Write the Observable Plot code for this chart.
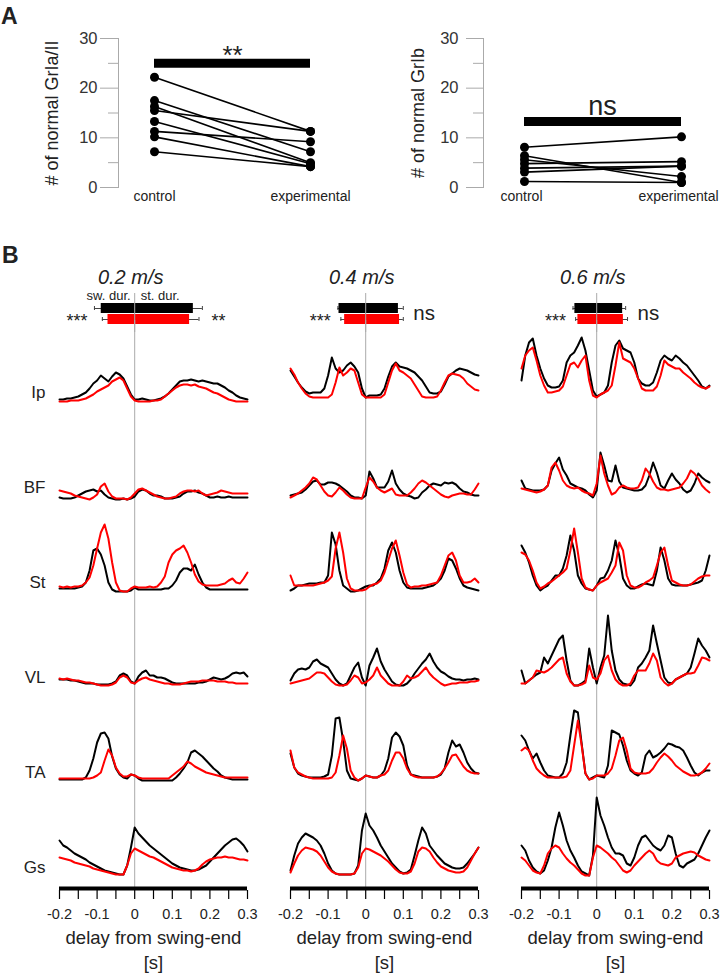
<!DOCTYPE html>
<html><head><meta charset="utf-8">
<script src="https://cdn.jsdelivr.net/npm/d3@7"></script>
<script src="https://cdn.jsdelivr.net/npm/@observablehq/plot@0.6"></script>
<style>
body{margin:0;background:#fff;}
#fig{position:relative;width:720px;height:973px;overflow:hidden;font-family:"Liberation Sans",Arial,Helvetica,sans-serif;}
#fig > div{position:absolute;}
.lbl{font-weight:bold;font-size:23px;line-height:23px;color:#222;}
</style></head><body>
<div id="fig">
  <div class="lbl" style="left:1px;top:5px">A</div>
  <div class="lbl" style="left:2px;top:244px">B</div>
  <div id="a1" style="left:0;top:0"></div>
  <div id="a2" style="left:360px;top:0"></div>
  <div id="hdr" style="left:0;top:260px"></div>
  <div id="emg" style="left:0;top:320px"></div>
</div>
<script>
const FONT = '"Liberation Sans", Arial, Helvetica, sans-serif';

// ---------- Panel A data ----------
const groups = ["control", "experimental"];
const grIa_control      = [22.2, 17.5, 16.3, 15.5, 13.3, 11.3, 10.2, 7.2];
const grIa_experimental = [11.3, 7.2, 5.0, 11.3, 4.8, 9.2, 4.2, 4.2];
const grIb_control      = [8.1, 6.4, 5.6, 4.8, 3.9, 3.1, 1.2];
const grIb_experimental = [10.2, 1.0, 2.2, 5.2, 4.3, 4.3, 1.0];
const yMajor = [0, 10, 20, 30];
const yMinor = [5, 15, 25];
const grIa_sig = "**", grIa_sigLevel = 25;
const grIb_sig = "ns", grIb_sigLevel = 13.3;

// ---------- Panel B data ----------
const speeds = ["0.2 m/s", "0.4 m/s", "0.6 m/s"];
const muscles = ["Ip", "BF", "St", "VL", "TA", "Gs"];
const conditions = ["control", "experimental"];
// step-cycle bars (s, relative to swing end)
const swingOnset_control      = [-0.089, -0.071, -0.058];
const stanceEnd_control       = [0.156, 0.087, 0.069];
const swingOnset_experimental = [-0.071, -0.056, -0.050];
const stanceEnd_experimental  = [0.146, 0.090, 0.071];
const errLow_control      = [-0.107, -0.074, -0.063];
const errHigh_control     = [0.180, 0.100, 0.077];
const errLow_experimental = [-0.086, -0.066, -0.056];
const errHigh_experimental= [0.171, 0.100, 0.082];
const swingSig  = ["***", "***", "***"];
const stanceSig = ["**", "ns", "ns"];

const xTicksAll = [-0.2, -0.15, -0.1, -0.05, 0, 0.05, 0.1, 0.15, 0.2, 0.25, 0.3];
const xTickValues = [-0.2, -0.1, 0, 0.1, 0.2, 0.3];
const xTickLabels = ["-0.2", "-0.1", "0", "0.1", "0.2", "0.3"];
const xTitle = "delay from swing-end";
const xUnit = "[s]";

// EMG envelopes, sampled every 10 ms from -0.20 to 0.30 s (arbitrary units)
const Ip_02_control = [1,1,2,2,3,4,6,8,12,17,20,25,22,19,24,28,26,22,14,6, 1,1,2,1,0,0,1,2,4,7,11,15,19,20,20,21,20,19,20,19,18,17,17,15,13,10,8,5,3,2,1];
const Ip_02_experimental = [-1,-1,-1,0,0,0,1,2,4,6,9,11,13,15,19,21,23,20,12,4, 0,-1,-1,-1,-1,0,0,1,4,7,10,13,15,16,16,15,16,14,13,12,10,8,7,5,3,1,0,-1,-1,-1,-1];
const BF_02_control = [-2,-3,-3,-3,-2,0,2,4,5,6,4,5,1,-2,-3,-4,-4,-3,-4,-3, -1,4,6,5,2,0,0,-1,-3,-3,-3,-2,-1,2,4,4,5,3,2,0,-2,-2,-1,-2,-2,-1,-2,-2,-2,-2,-2];
const BF_02_experimental = [5,4,3,2,0,-1,-2,-3,-4,-2,1,9,12,4,-1,-3,-3,-3,-4,-2, 2,6,7,5,3,1,-1,-2,-3,-3,-2,-1,2,4,5,5,4,5,2,0,1,2,3,5,4,3,2,2,2,2,2];
const St_02_control = [2,2,2,2,2,3,4,8,20,40,42,36,25,8,1,-1,-1,-1,-1,0, 3,1,1,1,1,1,1,1,2,2,5,10,18,22,22,20,26,16,8,3,1,1,1,1,1,1,1,1,1,1,1];
const St_02_experimental = [4,3,4,3,4,4,5,8,13,25,42,58,66,52,28,8,0,-1,-1,2, 4,3,3,3,4,3,4,8,14,28,36,40,42,45,38,28,16,9,6,5,5,5,5,6,7,10,12,8,7,12,18];
const VL_02_control = [6,6,6,5,5,4,3,2,2,2,1,1,1,1,2,4,10,12,10,4, 2,9,13,15,10,10,8,8,7,5,3,2,2,2,2,2,2,3,3,4,6,8,7,6,7,9,12,13,12,13,9];
const VL_02_experimental = [7,6,7,6,5,5,4,3,3,2,1,0,0,0,1,3,8,10,8,3, 2,5,7,8,6,5,4,3,2,2,1,1,1,2,3,4,4,4,5,5,5,5,4,4,4,3,3,2,2,2,2];
const TA_02_control = [1,1,1,1,1,1,1,3,10,22,38,47,48,42,24,12,6,3,2,6, 5,2,0,0,0,0,0,0,0,0,0,3,7,12,18,28,30,27,24,20,16,12,9,5,3,2,1,1,1,1,1];
const TA_02_experimental = [2,2,2,2,2,2,2,2,2,3,5,8,20,31,25,13,7,4,4,6, 5,3,2,2,2,2,2,2,2,2,5,8,11,14,19,17,14,12,10,8,7,6,5,4,3,3,3,3,3,3,3];
const Gs_02_control = [35,30,28,25,22,20,18,16,13,11,9,7,5,4,3,2,1,1,10,28, 48,42,38,34,30,27,24,21,18,15,12,10,8,7,6,5,5,6,8,10,14,18,22,26,30,33,36,37,34,30,24];
const Gs_02_experimental = [18,17,16,15,13,12,11,10,9,7,6,5,4,3,2,1,1,1,10,22, 27,25,23,21,19,18,16,14,12,10,8,7,6,5,5,4,5,7,11,14,16,17,18,18,19,18,18,17,16,16,15];

const Ip_04_control = [30,24,18,13,9,7,8,8,8,12,25,43,32,28,30,35,38,34,28,12, 3,5,5,5,6,12,24,34,38,34,33,32,30,28,24,20,14,8,7,7,9,16,24,27,30,32,31,30,28,26,25];
const Ip_04_experimental = [32,26,18,12,7,4,3,3,3,3,3,6,18,33,25,28,32,30,18,6, 3,3,3,3,3,6,18,30,37,30,28,25,22,16,10,4,3,3,3,4,10,18,25,27,26,25,22,17,14,11,10];
const BF_04_control = [0,1,2,3,6,10,14,15,11,11,13,13,12,10,7,4,0,-2,-2,-3, 0,24,17,8,8,8,14,25,12,6,2,0,-1,-3,-2,3,6,10,12,11,10,13,12,13,11,7,4,3,1,0,0];
const BF_04_experimental = [-2,0,2,5,8,12,18,16,10,4,0,-1,3,8,5,1,-2,-3,-3,-3, 8,18,14,8,5,3,5,7,1,0,0,0,3,7,12,15,13,10,7,4,1,-1,-2,0,1,2,2,1,1,6,12];
const St_04_control = [0,2,5,5,6,7,7,7,8,8,15,58,46,20,5,2,-1,-1,0,2, 4,5,5,8,12,22,40,48,38,20,8,3,2,2,2,2,3,4,5,8,12,20,32,30,22,12,5,3,2,1,0];
const St_04_experimental = [15,5,5,5,5,5,5,6,7,8,10,14,42,58,38,12,2,0,0,0, 1,4,6,7,10,18,30,42,50,35,18,6,3,4,4,5,5,6,7,8,15,25,35,38,30,15,8,8,9,12,8];
const VL_04_control = [5,12,16,17,16,18,24,26,22,20,18,12,6,2,0,2,10,18,23,8, 0,20,28,37,24,16,10,4,1,0,0,2,6,12,17,22,26,32,24,18,14,12,9,7,6,6,5,6,6,7,6];
const VL_04_experimental = [2,3,4,5,6,7,10,13,13,12,8,4,1,0,0,1,5,10,8,2, 3,6,10,18,10,6,2,0,0,0,4,10,7,8,10,14,18,12,8,5,2,0,1,2,2,3,3,3,4,4,5];
const TA_04_control = [27,13,7,5,4,3,3,3,3,4,6,25,62,63,40,10,2,1,0,2, 5,4,3,3,5,10,22,43,48,44,35,15,6,5,4,3,3,3,3,4,6,12,28,40,34,36,28,18,12,8,7];
const TA_04_experimental = [30,13,8,6,4,3,2,2,2,2,2,3,8,25,45,32,10,3,0,2, 5,4,3,3,5,6,10,20,28,28,22,12,6,4,3,3,3,3,3,4,7,12,18,25,26,20,14,10,8,7,7];
const Gs_04_control = [5,20,32,38,42,40,38,35,30,22,12,5,2,1,1,1,1,2,10,45, 62,50,45,38,30,24,18,12,8,4,2,3,6,20,35,48,42,30,25,20,16,12,10,8,7,7,8,12,17,22,28];
const Gs_04_experimental = [3,12,20,25,28,27,26,24,20,14,8,4,2,1,1,1,1,2,8,22, 27,26,24,22,20,17,14,10,6,3,2,2,4,12,24,28,27,24,18,13,9,7,5,4,3,3,4,8,15,22,28];

const Ip_06_control = [20,45,58,62,45,32,22,15,13,13,14,20,38,45,48,55,63,50,30,10, 4,6,8,15,38,55,60,52,50,48,38,22,17,15,15,18,28,40,45,42,40,45,42,38,35,30,25,20,14,12,15];
const Ip_06_experimental = [32,45,50,53,40,25,15,8,8,9,10,14,25,36,38,33,40,45,20,5, 3,6,8,10,15,35,58,42,40,38,32,22,12,10,10,10,14,25,40,36,34,32,32,28,25,22,18,15,13,12,14];
const BF_06_control = [15,7,6,5,5,5,6,10,25,32,38,26,20,12,10,8,7,5,1,-2, 5,43,30,15,14,30,14,8,7,6,5,5,6,10,20,33,23,10,7,15,22,16,12,6,3,5,12,22,18,15,13];
const BF_06_experimental = [7,6,5,4,3,4,6,10,28,33,25,15,10,8,7,8,5,3,2,0, 12,40,22,10,1,3,8,10,8,7,7,8,15,27,22,14,8,6,6,5,6,7,8,12,17,25,22,17,10,6,3];
const St_06_control = [45,38,28,15,5,0,3,5,10,15,15,22,35,55,40,15,7,2,1,0, 5,12,13,20,30,50,35,12,5,2,2,4,6,7,6,5,20,43,30,12,6,5,5,5,5,6,7,8,10,20,35];
const St_06_experimental = [38,36,30,20,8,2,4,7,9,12,15,18,22,40,62,38,12,3,1,0, 5,8,10,12,18,25,48,40,15,5,3,3,5,8,10,13,25,38,43,25,10,8,6,5,5,6,9,12,14,15,15];
const VL_06_control = [15,2,5,8,11,13,28,22,30,38,46,50,25,5,0,0,2,5,37,18, 2,18,30,70,35,15,6,2,1,0,5,18,22,28,35,60,42,25,8,3,2,6,8,10,12,18,32,47,40,35,28];
const VL_06_experimental = [2,2,5,8,15,14,13,15,18,22,26,28,12,4,0,0,1,3,20,8, 6,12,25,30,15,6,2,0,0,2,10,15,15,15,22,32,25,8,3,0,2,6,8,10,12,12,13,20,28,27,25];
const TA_06_control = [45,40,30,22,27,18,10,5,4,3,3,7,18,45,70,68,37,7,1,3, 5,4,3,15,50,48,46,35,20,10,7,5,8,25,30,23,25,28,32,37,36,34,33,30,23,15,8,5,8,10,10];
const TA_06_experimental = [30,33,30,20,12,8,5,3,3,3,3,3,4,10,35,60,35,7,1,2, 5,5,5,7,12,25,40,43,30,12,8,7,7,7,8,12,18,23,27,24,20,15,12,9,7,5,5,6,8,12,17];
const Gs_06_control = [30,25,15,8,4,2,5,15,28,48,63,50,35,25,18,10,4,2,0,20, 78,60,50,38,28,22,22,20,12,10,18,30,38,40,35,30,27,25,30,40,38,22,10,8,12,14,16,22,30,38,45];
const Gs_06_experimental = [18,15,10,5,3,2,10,22,27,30,28,22,17,13,10,6,2,0,0,18, 30,28,25,22,18,15,10,5,3,5,10,14,18,22,25,22,15,12,11,10,12,18,20,22,23,24,23,20,18,16,15];

const traceSets = [
  ["0.2 m/s","Ip",Ip_02_control,Ip_02_experimental],["0.2 m/s","BF",BF_02_control,BF_02_experimental],
  ["0.2 m/s","St",St_02_control,St_02_experimental],["0.2 m/s","VL",VL_02_control,VL_02_experimental],
  ["0.2 m/s","TA",TA_02_control,TA_02_experimental],["0.2 m/s","Gs",Gs_02_control,Gs_02_experimental],
  ["0.4 m/s","Ip",Ip_04_control,Ip_04_experimental],["0.4 m/s","BF",BF_04_control,BF_04_experimental],
  ["0.4 m/s","St",St_04_control,St_04_experimental],["0.4 m/s","VL",VL_04_control,VL_04_experimental],
  ["0.4 m/s","TA",TA_04_control,TA_04_experimental],["0.4 m/s","Gs",Gs_04_control,Gs_04_experimental],
  ["0.6 m/s","Ip",Ip_06_control,Ip_06_experimental],["0.6 m/s","BF",BF_06_control,BF_06_experimental],
  ["0.6 m/s","St",St_06_control,St_06_experimental],["0.6 m/s","VL",VL_06_control,VL_06_experimental],
  ["0.6 m/s","TA",TA_06_control,TA_06_experimental],["0.6 m/s","Gs",Gs_06_control,Gs_06_experimental]
];
const times = d3.range(51).map(i => Math.round(-20 + i) / 100);

// ---------- build tables ----------
const rows = [];
for (const [speed, muscle, ctrl, exp] of traceSets) {
  times.forEach((t, i) => {
    rows.push({speed, muscle, condition: "control", t, v: ctrl[i]});
    rows.push({speed, muscle, condition: "experimental", t, v: exp[i]});
  });
}
const headerRows = speeds.flatMap((s, i) => [
  {speed: s, condition: "control", start: swingOnset_control[i], end: stanceEnd_control[i], lo: errLow_control[i], hi: errHigh_control[i]},
  {speed: s, condition: "experimental", start: swingOnset_experimental[i], end: stanceEnd_experimental[i], lo: errLow_experimental[i], hi: errHigh_experimental[i]}
]);
const sigRows = speeds.map((s, i) => ({
  speed: s, left: swingSig[i], right: stanceSig[i],
  lo: Math.min(errLow_control[i], errLow_experimental[i]),
  hi: Math.max(errHigh_control[i], errHigh_experimental[i])
}));
const bottomCells = speeds.map(s => ({speed: s, muscle: muscles[muscles.length - 1]}));

// ---------- Panel A ----------
function pairedPanel(ctrl, exp, o) {
  const pairs = ctrl.map((c, i) => ({control: c, experimental: exp[i]}));
  const points = pairs.flatMap(p => groups.map(g => ({group: g, value: p[g]})));
  return Plot.plot({
    width: 360, height: 215,
    marginTop: 38, marginBottom: 28, marginLeft: o.ml, marginRight: 10,
    style: {fontFamily: FONT, background: "transparent", color: "#222", overflow: "visible"},
    x: {type: "point", domain: groups, range: o.xr, padding: 0, axis: null},
    y: {domain: [0, 30], axis: null},
    marks: [
      Plot.frame({anchor: "left", stroke: "#aaa"}),
      Plot.axisY(yMajor, {anchor: "left", tickSize: o.tMaj, tickPadding: o.tp, stroke: "#aaa", fill: "#333", fontSize: 16.5, label: null}),
      Plot.axisY(yMinor, {anchor: "left", tickSize: o.tMin, tickFormat: () => "", stroke: "#aaa", label: null}),
      Plot.axisX({anchor: "bottom", tickSize: 0, tickPadding: 4, dx: o.xlDx, fontSize: 14, fill: "#222", label: null}),
      Plot.text([o.label], {frameAnchor: "left", textAnchor: "middle", lineAnchor: "middle", rotate: -90, dx: o.labelDx, fontSize: 18, fill: "#222"}),
      Plot.ruleY([o.level], {x1: () => groups[0], x2: () => groups[1], stroke: "#000", strokeWidth: 9}),
      Plot.text([o.sig], {x: () => groups[0], y: () => o.level, dx: o.sigDx, dy: o.sigDy, fontSize: o.sigSize, fill: "#222"}),
      Plot.link(pairs, {x1: () => groups[0], x2: () => groups[1], y1: "control", y2: "experimental", stroke: "#000", strokeWidth: 1.6}),
      Plot.dot(points, {x: "group", y: "value", r: 4.5, fill: "#000"})
    ]
  });
}
document.getElementById("a1").append(pairedPanel(grIa_control, grIa_experimental, {
  ml: 118, xr: [154, 310], tMaj: 18, tMin: 10, tp: 3, xlDx: 0, label: "# of normal GrIa/II", labelDx: -66,
  level: grIa_sigLevel, sig: grIa_sig, sigDx: 78, sigDy: -8, sigSize: 26
}));
document.getElementById("a2").append(pairedPanel(grIb_control, grIb_experimental, {
  ml: 123, xr: [164, 321], tMaj: 17, tMin: 10, tp: 8, xlDx: -3, label: "# of normal GrIb", labelDx: -65,
  level: grIb_sigLevel, sig: grIb_sig, sigDx: 78, sigDy: -15, sigSize: 27
}));

// ---------- Panel B header ----------
const facetLayout = {domain: speeds, paddingInner: 0.1845, paddingOuter: 0, axis: null};
const header = Plot.plot({
  width: 720, height: 72, marginTop: 0, marginBottom: 0, marginLeft: 58, marginRight: 10,
  style: {fontFamily: FONT, background: "transparent", color: "#222", overflow: "visible"},
  facet: {marginTop: 0, marginBottom: 0, marginLeft: 0, marginRight: 0},
  fx: facetLayout,
  x: {domain: [-0.2, 0.3], axis: null},
  y: {domain: conditions, range: [43, 65], paddingInner: 0.09, paddingOuter: 0, axis: null},
  marks: [
    Plot.text(speeds, {fx: d => d, x: () => 0, frameAnchor: "top", lineAnchor: "middle", dy: 17, dx: -4, fontStyle: "italic", fontSize: 20, fill: "#222"}),
    Plot.text(["sw. dur."], {fx: () => speeds[0], x: () => 0, frameAnchor: "top", lineAnchor: "middle", dy: 35, dx: -4, textAnchor: "end", fontSize: 13, fill: "#222"}),
    Plot.text(["st. dur."], {fx: () => speeds[0], x: () => 0, frameAnchor: "top", lineAnchor: "middle", dy: 35, dx: 6, textAnchor: "start", fontSize: 13, fill: "#222"}),
    Plot.ruleY(headerRows, {fx: "speed", y: "condition", x1: "lo", x2: "hi", stroke: "#444", strokeWidth: 1}),
    Plot.tickX(headerRows, {fx: "speed", y: "condition", x: "lo", insetTop: 3, insetBottom: 3, stroke: "#444"}),
    Plot.tickX(headerRows, {fx: "speed", y: "condition", x: "hi", insetTop: 3, insetBottom: 3, stroke: "#444"}),
    Plot.barX(headerRows, {fx: "speed", y: "condition", x1: "start", x2: "end", fill: d => d.condition === "control" ? "#000" : "#f00"}),
    Plot.ruleX(speeds, {fx: d => d, x: () => 0, insetTop: 33, stroke: "#aaa"}),
    Plot.text(sigRows, {fx: "speed", x: "lo", y: () => "experimental", text: "left", textAnchor: "end", dx: -7, dy: 2, fontSize: 18, fill: "#222"}),
    Plot.text(sigRows.filter(d => d.right !== "ns"), {fx: "speed", x: "hi", y: () => "experimental", text: "right", textAnchor: "start", dx: 9, dy: 2, fontSize: 18, fill: "#222"}),
    Plot.text(sigRows.filter(d => d.right === "ns"), {fx: "speed", x: "hi", y: () => "experimental", text: "right", textAnchor: "start", dx: 10, dy: -6, fontSize: 20.5, fill: "#222"})
  ]
});
document.getElementById("hdr").append(header);

// ---------- Panel B traces ----------
const yDomain = [-15, 80];
const emg = Plot.plot({
  width: 720, height: 653, marginTop: 0, marginBottom: 83, marginLeft: 58, marginRight: 10,
  style: {fontFamily: FONT, background: "transparent", color: "#222", overflow: "visible"},
  facet: {marginTop: 0, marginBottom: 0, marginLeft: 0, marginRight: 0},
  fx: facetLayout,
  fy: {domain: muscles, paddingInner: 0, paddingOuter: 0, axis: null},
  x: {domain: [-0.2, 0.3], axis: null, label: null},
  y: {domain: yDomain, axis: null, label: null},
  marks: [
    Plot.ruleX([0], {stroke: "#aaa", strokeWidth: 1}),
    Plot.line(rows.filter(d => d.condition === "control"), {fx: "speed", fy: "muscle", x: "t", y: "v", stroke: "#000", strokeWidth: 2, strokeLinejoin: "round"}),
    Plot.line(rows.filter(d => d.condition === "experimental"), {fx: "speed", fy: "muscle", x: "t", y: "v", stroke: "#f00", strokeWidth: 2, strokeLinejoin: "round"}),
    Plot.ruleY(bottomCells, {fx: "speed", fy: "muscle", y: () => yDomain[0], dy: -2, stroke: "#000", strokeWidth: 4}),
    Plot.axisX(xTicksAll, {anchor: "bottom", tickSize: 9, tickFormat: () => "", stroke: "#000", strokeWidth: 1.2, label: null}),
    Plot.axisX(xTickValues, {anchor: "bottom", tickSize: 0, tickPadding: 18, tickFormat: d => xTickLabels[xTickValues.indexOf(d)], fontSize: 14.5, fill: "#222", label: null}),
    Plot.text(bottomCells, {fx: "speed", fy: "muscle", frameAnchor: "bottom", lineAnchor: "middle", text: () => xTitle, dy: 48, fontSize: 18.5, fill: "#222"}),
    Plot.text(bottomCells, {fx: "speed", fy: "muscle", frameAnchor: "bottom", lineAnchor: "middle", text: () => xUnit, dy: 73, fontSize: 18.5, fill: "#222"}),
    Plot.axisFy({anchor: "left", tickSize: 0, tickPadding: 14, fontSize: 17, dy: 25, fill: "#222", label: null})
  ]
});
document.getElementById("emg").append(emg);
</script>
</body></html>
